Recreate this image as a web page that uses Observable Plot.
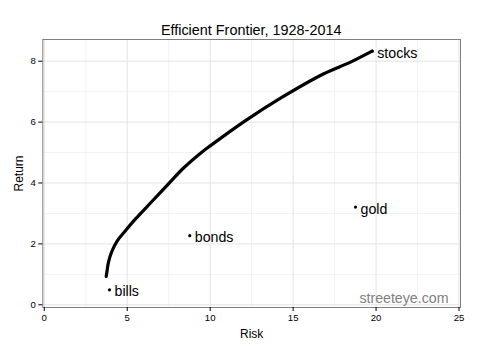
<!DOCTYPE html>
<html>
<head>
<meta charset="utf-8">
<script src="https://cdn.jsdelivr.net/npm/d3@7"></script>
<script src="https://cdn.jsdelivr.net/npm/@observablehq/plot@0.6"></script>
<style>
  html, body { margin: 0; padding: 0; background: #fff; }
  #chart { width: 480px; height: 352px; font-family: "Liberation Sans", Arial, sans-serif; }
  #title { box-sizing: border-box; height: 38px; padding: 22px 20px 0 42.3px; font-size: 14.4px; line-height: 16px; text-align: center; color: #000; white-space: nowrap; }
  svg { display: block; }
</style>
</head>
<body>
<div id="chart">
  <div id="title">Efficient Frontier, 1928-2014</div>
</div>
<script>
// Efficient frontier curve (risk, return)
const frontierRisk   = [3.73, 3.78, 3.87, 4.07, 4.4, 4.9, 5.5, 6.5, 7.5, 8.41, 9.42, 10.0, 12.13, 14.34, 16.85, 18.46, 19.76];
const frontierReturn = [0.93, 1.1, 1.4, 1.75, 2.1, 2.44, 2.82, 3.4, 3.98, 4.5, 4.98, 5.22, 6.05, 6.82, 7.59, 7.97, 8.33];

// Individual assets
const assetNames  = ["bills", "bonds", "gold", "stocks"];
const assetRisk   = [3.93, 8.77, 18.76, 19.77];
const assetReturn = [0.49, 2.27, 3.21, 8.33];

// Axis ticks
const xTicks = [0, 5, 10, 15, 20, 25];
const yTicks = [0, 2, 4, 6, 8];
const xMinor = [2.5, 7.5, 12.5, 17.5, 22.5];
const yMinor = [1, 3, 5, 7];

const frontier = frontierRisk.map((r, i) => ({risk: r, ret: frontierReturn[i]}));
const assets = assetNames.map((n, i) => ({name: n, risk: assetRisk[i], ret: assetReturn[i]}));

const font = '"Liberation Sans", Arial, sans-serif';

const plot = Plot.plot({
  width: 480,
  height: 314,
  marginTop: 1,
  marginBottom: 45,
  marginLeft: 42.3,
  marginRight: 20,
  style: {fontFamily: font, background: "#fff", color: "#000"},
  x: {domain: [-0.09, 25.09]},
  y: {domain: [-0.089, 8.713]},
  marks: [
    Plot.ruleX(xMinor, {stroke: "#f2f2f2", strokeWidth: 1}),
    Plot.ruleY(yMinor, {stroke: "#f2f2f2", strokeWidth: 1}),
    Plot.ruleX(xTicks, {stroke: "#e3e3e3", strokeWidth: 1}),
    Plot.ruleY(yTicks, {stroke: "#e3e3e3", strokeWidth: 1}),
    Plot.frame({stroke: "#7f7f7f", strokeWidth: 1}),
    Plot.axisX({ticks: xTicks, tickSize: 4, tickPadding: 3, fontSize: 9.6, stroke: "#000", color: "#000",
      label: "Risk", labelAnchor: "center", labelArrow: "none", labelOffset: 30}),
    Plot.axisY({ticks: yTicks, tickSize: 4, tickPadding: 3, fontSize: 9.6, stroke: "#000", color: "#000",
      label: "Return", labelAnchor: "center", labelArrow: "none", labelOffset: 28}),
    Plot.line(frontier, {x: "risk", y: "ret", stroke: "#000", strokeWidth: 3.2, curve: "catmull-rom"}),
    Plot.dot(assets, {x: "risk", y: "ret", r: 1.6, fill: "#000"}),
    Plot.text(assets, {x: "risk", y: "ret", text: "name", textAnchor: "start", dx: 5, dy: 2, fontSize: 14.2, fill: "#000"}),
    Plot.text(["streeteye.com"], {frameAnchor: "bottom-right", text: d => d, dx: -12, dy: -5, textAnchor: "end", lineAnchor: "bottom", fill: "#808080", fontSize: 14.2})
  ]
});
plot.querySelectorAll("[aria-label='x-axis label'] text, [aria-label='y-axis label'] text").forEach(t => t.setAttribute("font-size", "12"));
document.getElementById("chart").appendChild(plot);
</script>
</body>
</html>
